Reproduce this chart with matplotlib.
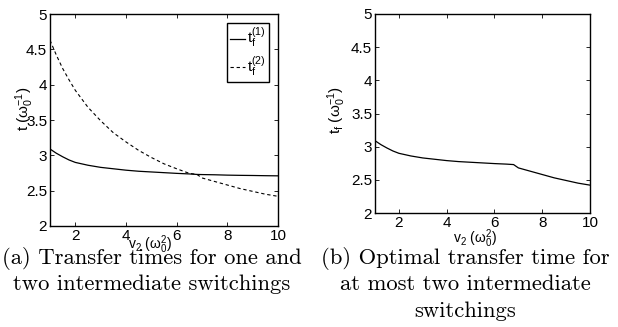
import matplotlib
matplotlib.use('Agg')
import matplotlib.pyplot as plt
import numpy as np

plt.rcParams['font.family'] = ['Liberation Sans', 'DejaVu Sans']
plt.rcParams['mathtext.default'] = 'regular'

# v2 (omega_0^2) grid and transfer times
v2 = np.array([1, 1.25, 1.5, 1.75, 2, 2.5, 3, 3.5, 4, 4.5, 5, 5.5, 6,
               6.5, 6.8, 7, 7.5, 8, 8.5, 9, 9.5, 10])
tf1 = np.array([3.09, 3.03, 2.98, 2.935, 2.90, 2.86, 2.83, 2.81, 2.79,
                2.775, 2.765, 2.755, 2.745, 2.737, 2.73, 2.728, 2.725,
                2.72, 2.717, 2.715, 2.712, 2.71])
tf2 = np.array([4.63, 4.42, 4.23, 4.07, 3.92, 3.68, 3.49, 3.32, 3.19,
                3.07, 2.97, 2.88, 2.81, 2.745, 2.73, 2.68, 2.63, 2.58,
                2.53, 2.49, 2.45, 2.42])
# optimal time for at most two switchings
tf_opt = np.minimum(tf1, tf2)

xticks = [2, 4, 6, 8, 10]
yticks = [2, 2.5, 3, 3.5, 4, 4.5, 5]
ytick_labels = ['2', '2.5', '3', '3.5', '4', '4.5', '5']


def style_axes(ax):
    ax.set_xlim(1, 10)
    ax.set_ylim(2, 5)
    ax.set_xticks(xticks)
    ax.set_yticks(yticks)
    ax.set_yticklabels(ytick_labels)
    ax.tick_params(direction='in', length=3, width=0.6, labelsize=11,
                   top=True, right=True, pad=2)
    for s in ax.spines.values():
        s.set_linewidth(1.0)


fig = plt.figure(figsize=(6.18, 3.27), dpi=100)

# (a) one and two intermediate switchings
ax1 = fig.add_axes([0.0809, 0.3089, 0.369, 0.648])
ax1.plot(v2, tf1, color='black', lw=0.9, label='$t_f^{(1)}$')
ax1.plot(v2, tf2, color='black', lw=0.8, dashes=(3, 2.5),
         label='$t_f^{(2)}$')
style_axes(ax1)
ax1.set_ylabel('t ($\\omega_0^{-1}$)', fontsize=11)
ax1.yaxis.set_label_coords(-0.061, 0.554)
ax1.set_xlabel('$v_2$ ($\\omega_0^2$)', fontsize=10)
ax1.xaxis.set_label_coords(0.44, -0.035)
leg = ax1.legend(loc='upper right', fontsize=11, handlelength=1.0,
                 handletextpad=0.1, borderpad=0.2, borderaxespad=0.6,
                 labelspacing=0.3, fancybox=False, framealpha=1)
leg.get_frame().set_edgecolor('black')
leg.get_frame().set_linewidth(1.0)

# (b) optimal transfer time
ax2 = fig.add_axes([0.6068, 0.3486, 0.348, 0.6086])
ax2.plot(v2, tf_opt, color='black', lw=0.9)
style_axes(ax2)
ax2.set_ylabel('$t_f$ ($\\omega_0^{-1}$)', fontsize=11)
ax2.yaxis.set_label_coords(-0.126, 0.515)
ax2.set_xlabel('$v_2$ ($\\omega_0^2$)', fontsize=10)
ax2.xaxis.set_label_coords(0.463, -0.07)

cap = dict(family='cmr10', fontsize=16.3, ha='center', va='center')
fig.text(0.245, 1 - 258 / 327, '(a) Transfer times for one and', **cap)
fig.text(0.245, 1 - 284 / 327, 'two intermediate switchings', **cap)
fig.text(0.753, 1 - 258 / 327, '(b) Optimal transfer time for', **cap)
fig.text(0.753, 1 - 284 / 327, 'at most two intermediate', **cap)
fig.text(0.753, 1 - 311 / 327, 'switchings', **cap)

fig.savefig('out.png', dpi=100)
